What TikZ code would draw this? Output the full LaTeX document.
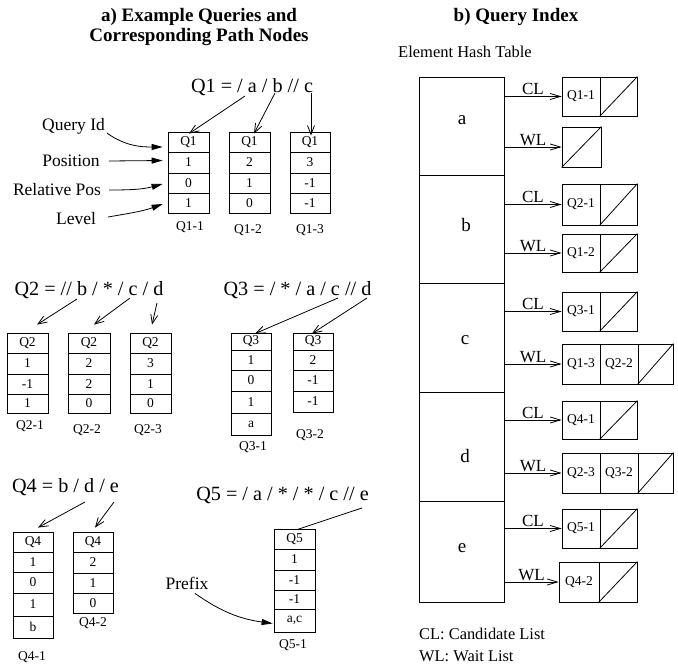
\documentclass[tikz,border=0pt]{standalone}
\usepackage{fontspec}
\setmainfont{Liberation Serif}
\usetikzlibrary{arrows.meta,calc}
\tikzset{
  cellbox/.style={draw, line width=0.8pt, inner sep=0pt, font=\fontsize{13.5}{15}\selectfont},
  hashsec/.style={draw, line width=0.8pt, inner sep=0pt, minimum width=85pt},
  ttl/.style={font=\fontsize{19}{20}\selectfont\bfseries, align=center, inner sep=0pt},
  frm/.style={font=\fontsize{20.2}{22}\selectfont, inner sep=0pt},
  lab/.style={font=\fontsize{17.5}{20}\selectfont, inner sep=0pt},
  small/.style={font=\fontsize{13.5}{15}\selectfont, inner sep=0pt},
  letter/.style={font=\fontsize{19}{20}\selectfont, inner sep=0pt},
  lstlbl/.style={font=\fontsize{17}{20}\selectfont, inner sep=1pt},
  legend/.style={font=\fontsize{16.4}{20}\selectfont, inner sep=0pt, anchor=west},
  openarr/.style={line width=0.8pt, -{Straight Barb[length=9pt,width=7pt]}},
  listarr/.style={line width=0.8pt, -{Straight Barb[length=10pt,width=6pt]}},
  fillarr/.style={line width=0.8pt, -{Triangle[length=11pt,width=6pt]}},
  plainln/.style={line width=0.8pt},
}
\newcommand\pathnode[4]{%
  \foreach \ya/\yb/\tx [count=\i] in {#4}{%
    \node[cellbox, minimum width={(#3-#2)*1pt}, minimum height={(\yb-\ya)*1pt}] (#1-\i) at ({(#2+#3)/2},{(\ya+\yb)/2}) {\tx};
  }}
\newcommand\lcell[6]{%
  \node[cellbox, minimum width={(#3-#2)*1pt}, minimum height={(#5-#4)*1pt}] (#1) at ({(#2+#3)/2},{(#4+#5)/2}) {#6};}
\newcommand\nullcell[5]{%
  \lcell{#1}{#2}{#3}{#4}{#5}{}
  \draw[line width=0.8pt] (#1.south west) -- (#1.north east);}
\begin{document}
\begin{tikzpicture}[x=1pt,y=-1pt]
\useasboundingbox (0,0) rectangle (678,669);

% ---------- titles ----------
\node[ttl] (ta) at (199,27) {a) Example Queries and\\Corresponding Path Nodes};
\node[ttl] (tb) at (516,17) {b) Query Index};

% ---------- Q1 ----------
\node[frm] (f1) at (252,87) {Q1 = / a / b // c};
\coordinate (f1a) at (245,96);
\coordinate (f1b) at (275,93);
\coordinate (f1c) at (311,93);
\pathnode{q11}{168}{209}{132/152/Q1, 152/173/1, 173/193/0, 193/213/1}
\pathnode{q12}{229}{270}{132/152/Q1, 152/173/2, 173/193/1, 193/213/0}
\pathnode{q13}{290}{330}{132/152/Q1, 152/173/3, 173/193/-1, 193/213/-1}
\node[small] (l11) at (190,227) {Q1-1};
\node[small] (l12) at (248,230) {Q1-2};
\node[small] (l13) at (310,230) {Q1-3};
\draw[openarr] (f1a) -- ($(q11-1.north)+(0.5,2)$);
\draw[openarr] (f1b) -- ($(q12-1.north)+(4.5,2)$);
\draw[openarr] (f1c) -- ($(q13-1.north)+(1,4)$);

\node[lab] (qid) at (73.5,126) {Query Id};
\node[lab] (pos) at (71,161) {Position};
\node[lab] (rel) at (57,190) {Relative Pos};
\node[lab] (lev) at (76,219) {Level};
\draw[fillarr] (qid.south east) ++(2,-1) coordinate (qs) (qs) to[out=-35,in=180] ($(q11-1.west)+(-5,5)$);
\draw[fillarr] ($(pos.east)+(9,0)$) -- ($(q11-2.west)+(-5,-2)$);
\draw[fillarr] ($(rel.east)+(8,0)$) to[out=0,in=195] ($(q11-3.west)+(-5,1)$);
\draw[fillarr] ($(lev.east)+(12,-2)$) to[out=10,in=200] ($(q11-4.west)+(-5,1)$);

% ---------- Q2 ----------
\node[frm] (f2) at (89,290) {Q2 = // b / * / c / d};
\coordinate (f2b) at (77,299);
\coordinate (f2c) at (130,298);
\coordinate (f2d) at (157,303);
\pathnode{q21}{7}{48}{333/353/Q2, 353/374/1, 374/394/-1, 394/413/1}
\pathnode{q22}{68}{110}{333/353/Q2, 353/374/2, 374/394/2, 394/413/0}
\pathnode{q23}{130}{171}{333/353/Q2, 353/374/3, 374/394/1, 394/413/0}
\node[small] (l21) at (30,426) {Q2-1};
\node[small] (l22) at (87,430) {Q2-2};
\node[small] (l23) at (148,430) {Q2-3};
\draw[openarr] (f2b) -- ($(q21-1.north)+(9.5,-8)$);
\draw[openarr] (f2c) -- ($(q22-1.north)+(5,-8)$);
\draw[openarr] (f2d) -- ($(q23-1.north)+(1.5,-8)$);

% ---------- Q3 ----------
\node[frm] (f3) at (297.5,290) {Q3 = / * / a / c // d};
\coordinate (f3c) at (338,298);
\coordinate (f3d) at (367,298);
\pathnode{q31}{231}{271}{333/350/Q3, 350/370/1, 370/391/0, 391/413/1, 413/435/a}
\pathnode{q32}{293}{333}{333/350/Q3, 350/370/2, 370/391/-1, 391/412/-1}
\node[small] (l31) at (253,447) {Q3-1};
\node[small] (l32) at (310,435) {Q3-2};
\draw[openarr] (f3c) -- ($(q31-1.north)+(4,1)$);
\draw[openarr] (f3d) -- ($(q32-1.north)+(-1,1)$);

% ---------- Q4 ----------
\node[frm] (f4) at (65.5,487) {Q4 = b / d / e};
\coordinate (f4d) at (85,502);
\coordinate (f4e) at (114,502);
\pathnode{q41}{13}{53}{532/552/Q4, 552/572/1, 572/593/0, 593/616/1, 616/638/b}
\pathnode{q42}{73}{113}{532/552/Q4, 552/573/2, 573/593/1, 593/613/0}
\node[small] (l41) at (32,657) {Q4-1};
\node[small] (l42) at (93,623) {Q4-2};
\draw[openarr] (f4d) -- ($(q41-1.north)+(5,-4)$);
\draw[openarr] (f4e) -- ($(q42-1.north)+(2,-4)$);

% ---------- Q5 ----------
\node[frm] (f5) at (282.5,495) {Q5 = / a / * / * / c // e};
\coordinate (f5e) at (362,508);
\pathnode{q51}{274}{315}{529/549/Q5, 549/570/1, 570/590/-1, 590/609/-1, 609/632/{a,c}}
\node[small] (l51) at (293,645) {Q5-1};
\draw[plainln] (f5e) -- ($(q51-1.north)+(2.5,1)$);
\node[lab] (pre) at (187,583) {Prefix};
\draw[fillarr] ($(pre.south)+(8,4)$) to[out=-35,in=172] ($(q51-5.west)+(-1,3)$);

% ---------- Query index ----------
\node[legend, font=\fontsize{16.5}{20}\selectfont] (eht) at (398,52) {Element Hash Table};
\node[hashsec, minimum height=98pt]  (ha) at (461.5,126) {};
\node[hashsec, minimum height=108pt] (hb) at (461.5,229) {};
\node[hashsec, minimum height=109pt] (hc) at (461.5,337.5) {};
\node[hashsec, minimum height=109pt] (hd) at (461.5,446.5) {};
\node[hashsec, minimum height=101pt] (he) at (461.5,551.5) {};
\node[letter] (la) at (462,120) {a};
\node[letter] (lb) at (466,225) {b};
\node[letter] (lc) at (465,340) {c};
\node[letter] (ld) at (465,456) {d};
\node[letter] (le) at (462,548) {e};

% a
\lcell{cla1}{562}{600}{77}{116}{Q1-1}
\nullcell{cla2}{600}{637}{77}{116}
\nullcell{wla1}{562}{601}{127}{167}
% b
\lcell{clb1}{562}{600}{184}{225}{Q2-1}
\nullcell{clb2}{600}{637}{184}{225}
\lcell{wlb1}{562}{600}{234}{272}{Q1-2}
\nullcell{wlb2}{600}{637}{234}{272}
% c
\lcell{clc1}{562}{600}{292}{331}{Q3-1}
\nullcell{clc2}{600}{637}{292}{331}
\lcell{wlc1}{562}{600}{344}{384}{Q1-3}
\lcell{wlc2}{600}{638}{344}{384}{Q2-2}
\nullcell{wlc3}{638}{673}{344}{384}
% d
\lcell{cld1}{562}{600}{401}{439}{Q4-1}
\nullcell{cld2}{600}{637}{401}{439}
\lcell{wld1}{562}{600}{453}{493}{Q2-3}
\lcell{wld2}{600}{638}{453}{493}{Q3-2}
\nullcell{wld3}{638}{673}{453}{493}
% e
\lcell{cle1}{562}{600}{509}{548}{Q5-1}
\nullcell{cle2}{600}{637}{509}{548}
\lcell{wle1}{559}{599}{562}{602}{Q4-2}
\nullcell{wle2}{599}{637}{562}{602}

\draw[listarr] (ha.east |- cla1.west) -- node[lstlbl, above] {CL} (cla1.west);
\draw[listarr] (ha.east |- wla1.west) -- node[lstlbl, above] {WL} (wla1.west);
\draw[listarr] (hb.east |- clb1.west) -- node[lstlbl, above] {CL} (clb1.west);
\draw[listarr] (hb.east |- wlb1.west) -- node[lstlbl, above] {WL} (wlb1.west);
\draw[listarr] (hc.east |- clc1.west) -- node[lstlbl, above] {CL} (clc1.west);
\draw[listarr] (hc.east |- wlc1.west) -- node[lstlbl, above] {WL} (wlc1.west);
\draw[listarr] (hd.east |- cld1.west) -- node[lstlbl, above] {CL} (cld1.west);
\draw[listarr] (hd.east |- wld1.west) -- node[lstlbl, above] {WL} (wld1.west);
\draw[listarr] (he.east |- cle1.west) -- node[lstlbl, above] {CL} (cle1.west);
\draw[listarr] (he.east |- wle1.west) -- node[lstlbl, above] {WL} (wle1.west);

\node[legend] (lg1) at (419,634) {CL: Candidate List};
\node[legend] (lg2) at (419,656) {WL: Wait List};
\end{tikzpicture}
\end{document}
